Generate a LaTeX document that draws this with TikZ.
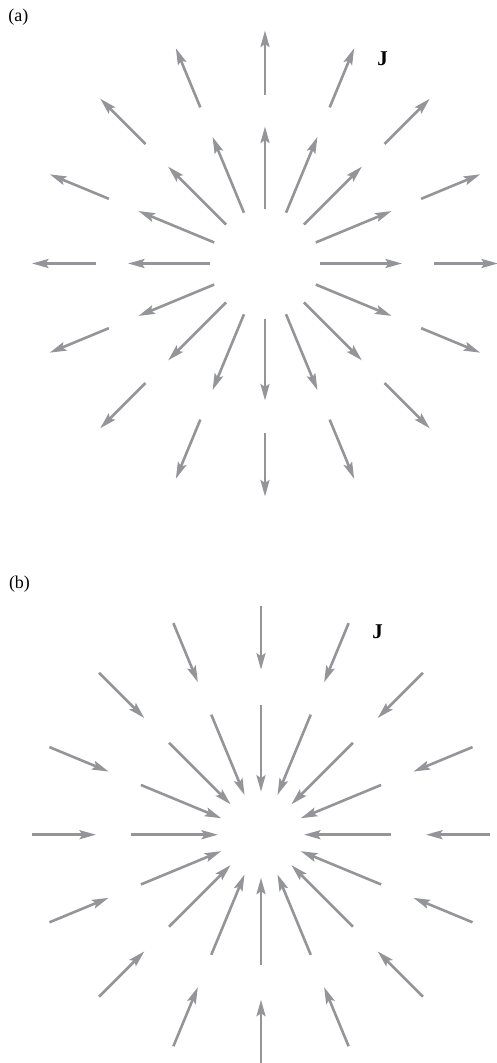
\documentclass[tikz,border=0pt]{standalone}
\usepackage{fontspec}
\setmainfont{Liberation Serif}
\usetikzlibrary{arrows.meta,calc}
\definecolor{arrowgray}{RGB}{148,149,153}
\begin{document}
\begin{tikzpicture}[x=1pt,y=-1pt,
  jarrow/.style={draw=arrowgray, line width=2.6pt, -{Stealth[length=16.5pt,width=9pt,inset=3pt]}},
  panellabel/.style={inner sep=0pt, font=\fontsize{18}{20}\selectfont},
  jlabel/.style={inner sep=0pt, font=\fontsize{21}{23}\selectfont\bfseries}]
\useasboundingbox (0,0) rectangle (497,1063);
% panel (a): outward
\coordinate (ca) at (265,263.5);
\foreach \a in {0,22.5,...,337.5} {
  \draw[jarrow] ($(ca)+(\a:55)$) -- ($(ca)+(\a:137)$);
  \draw[jarrow] ($(ca)+(\a:169)$) -- ($(ca)+(\a:233)$);
}
\node[panellabel] (la) at (18.3,16.7) {(a)};
\node[jlabel] (ja) at (382.5,59) {J};
% panel (b): inward
\coordinate (cb) at (261,834.7);
\foreach \a in {0,22.5,...,337.5} {
  \draw[jarrow] ($(cb)+(\a:130)$) -- ($(cb)+(\a:43)$);
  \draw[jarrow] ($(cb)+(\a:229)$) -- ($(cb)+(\a:165)$);
}
\node[panellabel] (lb) at (19.5,584) {(b)};
\node[jlabel] (jb) at (377.7,632) {J};
\end{tikzpicture}
\end{document}
